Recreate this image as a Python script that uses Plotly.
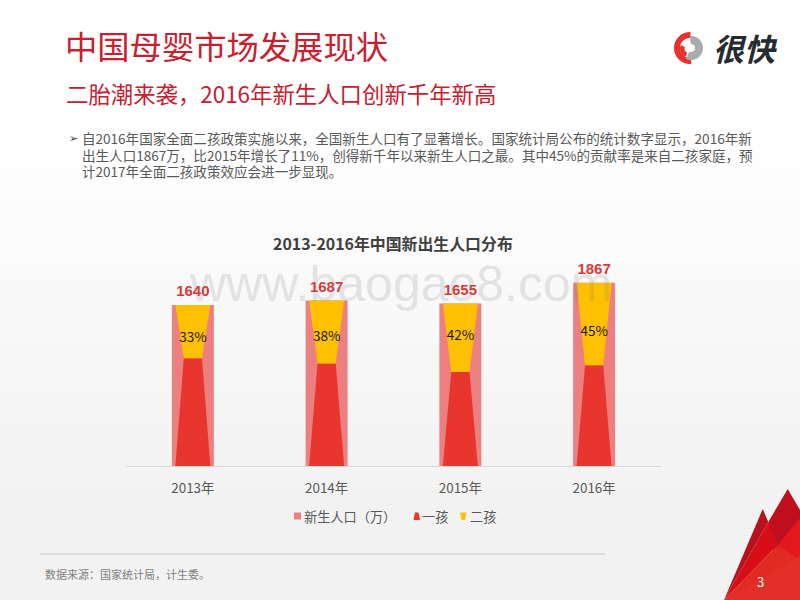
import numpy as np
import plotly.graph_objects as go

categories = ["2013年", "2014年", "2015年", "2016年"]
population = [1640, 1687, 1655, 1867]
first_child = [1099, 1046, 960, 1027]
second_child = [541, 641, 695, 840]
second_share = ["33%", "38%", "42%", "45%"]
share_label_anchor = [0.36, 0.405, 0.51, 0.40]
legend_names = ["新生人口（万）", "一孩", "二孩"]

CJK = "Noto Sans CJK SC"
LATIN = "Liberation Sans"
RED_T = "#c8202f"
C_POP, C_ONE, C_TWO = "#ec8080", "#e8352e", "#ffc000"

BAR_W = 0.314
WIDE = 0.131   # half width of a trapezoid at its wide end
NARROW = 0.068 # half width at the waist
LABEL_PAD = 50 # gap between a bar top and its value label, in axis units

def px(x, y):
    return x / 800, 1 - y / 600

def poly(points):
    parts = []
    for i, (x, y) in enumerate(points):
        a, b = px(x, y)
        parts.append(("M" if i == 0 else "L") + f"{a:.5f},{b:.5f}")
    return " ".join(parts) + " Z"

def sector(cx, cy, r0, r1, a0, a1, n=40):
    t = np.radians(np.linspace(a0, a1, n))
    outer = [(cx + r1 * np.sin(v), cy - r1 * np.cos(v)) for v in t]
    inner = [(cx + r0 * np.sin(v), cy - r0 * np.cos(v)) for v in t[::-1]]
    return poly(outer + inner)

shapes, annotations = [], []

def add_poly(points, color):
    shapes.append(dict(type="path", xref="paper", yref="paper", path=poly(points),
                       fillcolor=color, line=dict(width=0), layer="below"))

def add_text(x, y, text, size, color, family=CJK, bold=False, anchor="left", italic=False):
    a, b = px(x, y)
    annotations.append(dict(x=a, y=b, xref="paper", yref="paper", text=f"<b>{text}</b>" if bold else text,
                            showarrow=False, xanchor=anchor, yanchor="middle",
                            font=dict(size=size, color=color, family=family,
                                      style="italic" if italic else "normal")))

# page background: white fading to light grey
edges = list(range(120, 600, 16)) + [600]
for i in range(len(edges) - 1):
    t = i / (len(edges) - 2)
    v = int(round(255 - 13 * min(1, t * 1.25)))
    shapes.append(dict(type="rect", xref="paper", yref="paper", x0=0, x1=1,
                       y0=1 - edges[i + 1] / 600, y1=1 - edges[i] / 600,
                       fillcolor=f"rgb({v},{v},{v})", line=dict(width=0), layer="below"))

# corner mountains
add_poly([(724, 600), (762.7, 509), (768.3, 522)], "#b5121d")
add_poly([(768.3, 522), (787.7, 489), (800, 510), (800, 600), (775, 560)], "#bf0f1e")
add_poly([(724, 600), (768.3, 522), (778, 545)], "#d70d18")
add_poly([(800, 518), (778, 545), (790, 590), (800, 600)], "#e2181c")
add_poly([(724, 600), (778, 545), (800, 560), (800, 600)], "#e12a22")
add_poly([(724, 600), (800, 556), (800, 600)], "#e22f28")

# logo
shapes.append(dict(type="path", xref="paper", yref="paper", path=sector(690, 48, 10, 16, 175, 362),
                   fillcolor="#e8322f", line=dict(width=0), layer="below"))
shapes.append(dict(type="path", xref="paper", yref="paper", path=sector(691, 48, 4, 12, -5, 205),
                   fillcolor="#a9abad", line=dict(width=0), layer="below"))
shapes.append(dict(type="path", xref="paper", yref="paper", path=sector(688, 49, 3.5, 8, 195, 300),
                   fillcolor="#e8322f", line=dict(width=0), layer="below"))
add_text(711, 48, "很快", 31, "#262b30", bold=True, italic=True)

# headings and body
add_text(63, 45, "中国母婴市场发展现状", 32.3, RED_T)
add_text(64, 93, "二胎潮来袭，2016年新生人口创新千年新高", 22.4, RED_T)
add_text(67, 138, "➢", 11, "#404040", family="DejaVu Sans")
body = ["自2016年国家全面二孩政策实施以来，全国新生人口有了显著增长。国家统计局公布的统计数字显示，2016年新",
        "出生人口1867万，比2015年增长了11%，创得新千年以来新生人口之最。其中45%的贡献率是来自二孩家庭，预",
        "计2017年全面二孩政策效应会进一步显现。"]
for y, line in zip((138, 155, 171), body):
    add_text(80, y, line, 13.55, "#595959")
add_text(393, 243.5, "2013-2016年中国新出生人口分布", 15.9, "#404040", bold=True, anchor="center")
add_text(43, 574, "数据来源：国家统计局，计生委。", 11, "#7f7f7f")
add_text(760, 581, "3", 13, "#ffffff", anchor="center")
shapes.append(dict(type="line", xref="paper", yref="paper", x0=40 / 800, x1=605 / 800,
                   y0=1 - 554 / 600, y1=1 - 554 / 600, line=dict(color="#cccccc", width=1)))

# legend drawn to the reference's tight spacing
add_poly([(294, 512.5), (301, 512.5), (301, 519.5), (294, 519.5)], C_POP)
add_poly([(413.5, 520), (420, 520), (418.5, 512.5), (415, 512.5)], C_ONE)
add_poly([(460, 512.5), (466.5, 512.5), (465, 520), (461.5, 520)], C_TWO)
for x, name in zip((302, 420, 468), legend_names):
    add_text(x, 516, name, 13.2, "#595959")

# watermark
add_text(400, 284, "www.baogao8.com", 50, "rgba(130,130,130,0.19)", family=LATIN, anchor="center")

fig = go.Figure()
xs = np.arange(len(categories))
fig.add_trace(go.Bar(x=xs, y=population, width=BAR_W, marker=dict(color=C_POP, line=dict(width=0)),
                     showlegend=False, hoverinfo="x+y"))
for i in xs:
    a, b = first_child[i], second_child[i]
    fig.add_trace(go.Scatter(x=[i - WIDE, i + WIDE, i + NARROW, i - NARROW, i - WIDE], y=[0, 0, a, a, 0],
                             mode="lines", line=dict(width=0), fill="toself", fillcolor=C_ONE,
                             showlegend=False, hoverinfo="skip"))
    fig.add_trace(go.Scatter(x=[i - NARROW, i + NARROW, i + WIDE, i - WIDE, i - NARROW], y=[a, a, a + b, a + b, a],
                             mode="lines", line=dict(width=0), fill="toself", fillcolor=C_TWO,
                             showlegend=False, hoverinfo="skip"))
fig.add_trace(go.Scatter(x=xs, y=[v + LABEL_PAD for v in population], mode="text", text=[str(v) for v in population],
                         textposition="top center", cliponaxis=False,
                         textfont=dict(size=15, color="#d8393a", family=LATIN, weight="bold"),
                         showlegend=False))
fig.add_trace(go.Scatter(x=xs, y=[a + b * f for a, b, f in zip(first_child, second_child, share_label_anchor)],
                         mode="text", text=second_share, textposition="middle center",
                         textfont=dict(size=13.5, color="#1a1a1a", family=CJK), showlegend=False))

fig.update_layout(
    width=800, height=600, margin=dict(l=0, r=0, t=0, b=0), paper_bgcolor="#ffffff", plot_bgcolor="rgba(0,0,0,0)",
    shapes=shapes, annotations=annotations, font=dict(family=CJK, color="#595959", size=13),
    xaxis=dict(domain=[126 / 800, 661 / 800], range=[-0.5, 3.5], tickmode="array", tickvals=list(xs),
               ticktext=categories, showgrid=False, zeroline=False, showline=True, linecolor="#d9d9d9", linewidth=1,
               ticks="", tickfont=dict(size=13.4, color="#595959", family=CJK), ticklabelstandoff=10),
    yaxis=dict(domain=[1 - 466.3 / 600, 1 - 250 / 600], range=[0, 2200], visible=False),
    showlegend=False,
)
fig.write_html("out.html", config=dict(displayModeBar=False), post_script="document.body.style.margin='0';")
